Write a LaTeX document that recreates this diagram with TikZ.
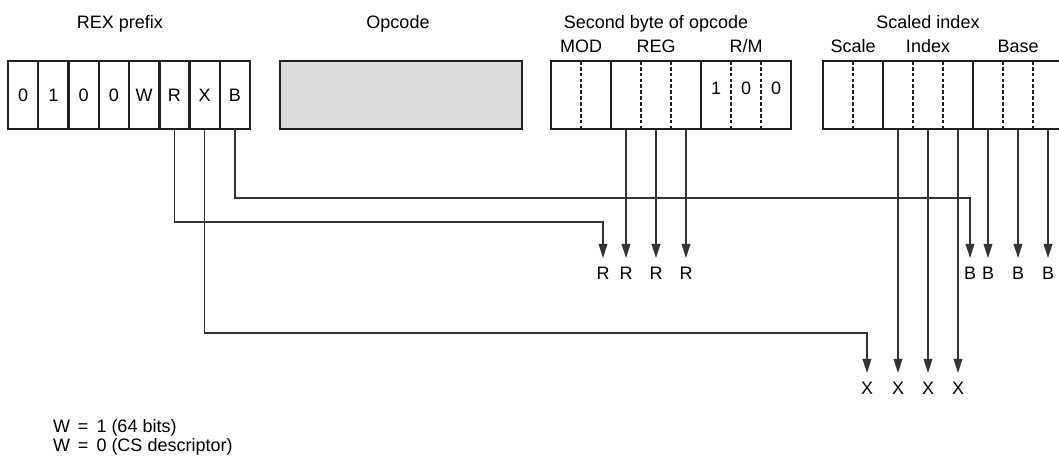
\documentclass[tikz,border=0pt]{standalone}
\usepackage{fontspec}
\setmainfont{Liberation Sans}
\usetikzlibrary{arrows.meta,positioning,fit}
\definecolor{Ink}{HTML}{231F20}
\definecolor{Wire}{HTML}{333333}
\definecolor{Panel}{HTML}{DADBDC}

\begin{document}
\begin{tikzpicture}[
  x=0.75pt,y=-0.75pt,
  every node/.style={font=\fontsize{13.5}{12}\selectfont,inner sep=0pt,outer sep=0pt},
  cell/.style={draw=Ink,line width=1.8pt,minimum width=22.7pt,minimum height=51pt},
  bit/.style={minimum width=22.5pt,minimum height=51pt},
  hibit/.style={bit,text depth=10.5pt},
  field/.style={draw=Ink,line width=1.8pt,fit=#1},
  sep/.style={Ink,line width=1.7pt,dash pattern=on 2.8pt off 1.6pt},
  arr/.style={-{Triangle[length=10.5pt,width=6.5pt]},line width=1pt,Wire,shorten >=4pt},
  lab/.style={inner sep=3pt}
]
\clip (0,0) rectangle (1059,464);

% REX prefix
\node[cell] (r0) at (23.1,95) {0};
\node[cell,right=0pt of r0] (r1) {1}; \node[cell,right=0pt of r1] (r2) {0};
\node[cell,right=0pt of r2] (r3) {0}; \node[cell,right=0pt of r3] (rW) {W};
\node[cell,right=0pt of rW] (rR) {R}; \node[cell,right=0pt of rR] (rX) {X};
\node[cell,right=0pt of rX] (rB) {B};
\node[anchor=base] (rext) at (120,28) {REX prefix};

% opcode
\node[cell,fill=Panel,minimum width=181.5pt] (opc) at (401,95) {};
\node[anchor=base] (opct) at (398,28) {Opcode};

% second byte of opcode
\node[bit] (s1) at (566,95) {}; \node[bit,right=0pt of s1] (s2) {};
\node[bit,right=0pt of s2] (s3) {}; \node[bit,right=0pt of s3] (s4) {};
\node[bit,right=0pt of s4] (s5) {}; \node[hibit,right=0pt of s5] (s6) {1};
\node[hibit,right=0pt of s6] (s7) {0}; \node[hibit,right=0pt of s7] (s8) {0};
\node[field={(s1)(s2)}] (mod) {};
\node[field={(s3)(s5)}] (reg) {};
\node[field={(s6)(s8)}] (rm) {};
\draw[sep] (s1.north east) -- (s1.south east);
\draw[sep] (s3.north east) -- (s3.south east); \draw[sep] (s4.north east) -- (s4.south east);
\draw[sep] (s6.north east) -- (s6.south east); \draw[sep] (s7.north east) -- (s7.south east);
\node[above=6pt of mod] (modl) {MOD};
\node[above=6pt of reg] (regl) {REG};
\node[above=6pt of rm] (rml) {R/M};
\node[anchor=base] (sbt) at (reg.north |- 0,28) {Second byte of opcode};

% scaled index
\node[bit] (t1) at (838,95) {}; \node[bit,right=0pt of t1] (t2) {};
\node[bit,right=0pt of t2] (t3) {}; \node[bit,right=0pt of t3] (t4) {};
\node[bit,right=0pt of t4] (t5) {}; \node[bit,right=0pt of t5] (t6) {};
\node[bit,right=0pt of t6] (t7) {}; \node[bit,right=0pt of t7] (t8) {};
\node[field={(t1)(t2)}] (scale) {};
\node[field={(t3)(t5)}] (index) {};
\node[field={(t6)(t8)}] (base) {};
\draw[sep] (t1.north east) -- (t1.south east);
\draw[sep] (t3.north east) -- (t3.south east); \draw[sep] (t4.north east) -- (t4.south east);
\draw[sep] (t6.north east) -- (t6.south east); \draw[sep] (t7.north east) -- (t7.south east);
\node[above=6pt of scale] (scalel) {Scale};
\node[above=6pt of index] (indexl) {Index};
\node[above=6pt of base] (basel) {Base};
\node[anchor=base] (sit) at (index.north |- 0,28) {Scaled index};

% targets
\node[lab] (lR1) at (603,273.5) {R}; \node[lab] (lR2) at (s3 |- 0,273.5) {R};
\node[lab] (lR3) at (s4 |- 0,273.5) {R}; \node[lab] (lR4) at (s5 |- 0,273.5) {R};
\node[lab] (lB1) at (970,273.5) {B}; \node[lab] (lB2) at (t6 |- 0,273.5) {B};
\node[lab] (lB3) at (t7 |- 0,273.5) {B}; \node[lab] (lB4) at (t8 |- 0,273.5) {B};
\node[lab] (lX1) at (867,388.5) {X}; \node[lab] (lX2) at (t3 |- 0,388.5) {X};
\node[lab] (lX3) at (t4 |- 0,388.5) {X}; \node[lab] (lX4) at (t5 |- 0,388.5) {X};

\draw[arr] (rR) -- (rR |- 0,222) -| (lR1);
\draw[arr] (rB) -- (rB |- 0,198) -| (lB1);
\draw[arr] (rX) -- (rX |- 0,333) -| (lX1);
\draw[arr] (s3) -- (lR2); \draw[arr] (s4) -- (lR3); \draw[arr] (s5) -- (lR4);
\draw[arr] (t6) -- (lB2); \draw[arr] (t7) -- (lB3); \draw[arr] (t8) -- (lB4);
\draw[arr] (t3) -- (lX2); \draw[arr] (t4) -- (lX3); \draw[arr] (t5) -- (lX4);

\node[anchor=base west,align=left] (wnote) at (53,451) {W \,= \,1 (64 bits)\\W \,= \,0 (CS descriptor)};
\end{tikzpicture}
\end{document}
